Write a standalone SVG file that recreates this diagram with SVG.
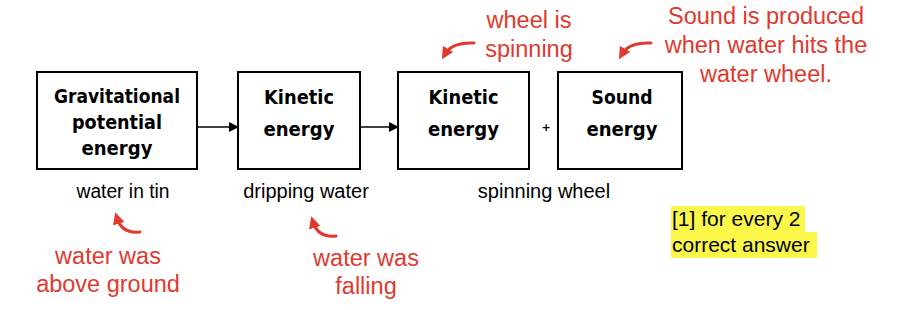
<svg xmlns="http://www.w3.org/2000/svg" width="906" height="310" viewBox="0 0 906 310">
<defs>
<marker id="ah" markerWidth="10" markerHeight="10" refX="9" refY="5" orient="auto" markerUnits="userSpaceOnUse">
<path d="M0,0 L10,5 L0,10 Z" fill="#000"/>
</marker>
<marker id="rh" markerWidth="12" markerHeight="12" refX="6" refY="6" orient="auto" markerUnits="userSpaceOnUse">
<path d="M0,0 L12,6 L0,12 Z" fill="#e0392e"/>
</marker>
<style>
.box{fill:#fff;stroke:#000;stroke-width:2}
.bt{font-family:"DejaVu Sans",sans-serif;font-weight:bold;font-size:19.5px;fill:#000;text-anchor:middle}
.lb{font-family:"Liberation Sans",Arial,sans-serif;font-size:20px;fill:#000;text-anchor:middle}
.rd{font-family:"Liberation Sans",Arial,sans-serif;font-size:23.5px;fill:#e0392e;text-anchor:middle}
.nt{font-family:"Liberation Sans",Arial,sans-serif;font-size:21px;fill:#000}
.con{stroke:#000;stroke-width:1.3;fill:none}
.rc{stroke:#e0392e;stroke-width:3;fill:none;stroke-linecap:round}
</style>
</defs>
<rect width="906" height="310" fill="#fff"/>
<g id="connectors">
<line class="con" x1="197" y1="127" x2="238" y2="127" marker-end="url(#ah)"/>
<line class="con" x1="360" y1="127" x2="398" y2="127" marker-end="url(#ah)"/>
<text x="546" y="131" font-family="DejaVu Sans,sans-serif" font-size="11" font-weight="bold" text-anchor="middle">+</text>
</g>
<g id="node-gpe">
<rect class="box" x="37" y="72" width="160" height="97"/>
<text class="bt" x="117" y="103" textLength="126" lengthAdjust="spacingAndGlyphs">Gravitational</text>
<text class="bt" x="117" y="129" textLength="90" lengthAdjust="spacingAndGlyphs">potential</text>
<text class="bt" x="117" y="155" textLength="71" lengthAdjust="spacingAndGlyphs">energy</text>
</g>
<g id="node-ke1">
<rect class="box" x="238" y="72" width="122" height="97"/>
<text class="bt" x="299" y="104" textLength="70" lengthAdjust="spacingAndGlyphs">Kinetic</text>
<text class="bt" x="299" y="136" textLength="71" lengthAdjust="spacingAndGlyphs">energy</text>
</g>
<g id="node-ke2">
<rect class="box" x="398" y="72" width="131" height="97"/>
<text class="bt" x="463.5" y="104" textLength="70" lengthAdjust="spacingAndGlyphs">Kinetic</text>
<text class="bt" x="463.5" y="136" textLength="71" lengthAdjust="spacingAndGlyphs">energy</text>
</g>
<g id="node-se">
<rect class="box" x="558" y="72" width="124" height="97"/>
<text class="bt" x="622" y="104" textLength="61" lengthAdjust="spacingAndGlyphs">Sound</text>
<text class="bt" x="622" y="136" textLength="71" lengthAdjust="spacingAndGlyphs">energy</text>
</g>
<g id="labels">
<text class="lb" x="123" y="198" textLength="93" lengthAdjust="spacingAndGlyphs">water in tin</text>
<text class="lb" x="306" y="198">dripping water</text>
<text class="lb" x="544" y="198">spinning wheel</text>
</g>
<g id="annotations">
<path class="rc" d="M474,43 Q452,42 445,54" marker-end="url(#rh)"/>
<path class="rc" d="M651,43 Q629,42 622,54" marker-end="url(#rh)"/>
<path class="rc" d="M140,232 Q122,234 117,218" marker-end="url(#rh)"/>
<path class="rc" d="M336,236 Q318,238 313,222" marker-end="url(#rh)"/>
<text class="rd" x="529" y="28">wheel is</text>
<text class="rd" x="529" y="57">spinning</text>
<text class="rd" x="766" y="24">Sound is produced</text>
<text class="rd" x="766" y="53">when water hits the</text>
<text class="rd" x="766" y="82">water wheel.</text>
<text class="rd" x="108" y="264">water was</text>
<text class="rd" x="108" y="292">above ground</text>
<text class="rd" x="366" y="266">water was</text>
<text class="rd" x="366" y="294">falling</text>
</g>
<g id="note">
<rect x="671" y="206" width="134" height="26" fill="#fbf84a"/>
<rect x="671" y="232" width="146" height="26" fill="#fbf84a"/>
<text class="nt" x="672" y="226">[1] for every 2</text>
<text class="nt" x="672" y="252">correct answer</text>
</g>
</svg>
